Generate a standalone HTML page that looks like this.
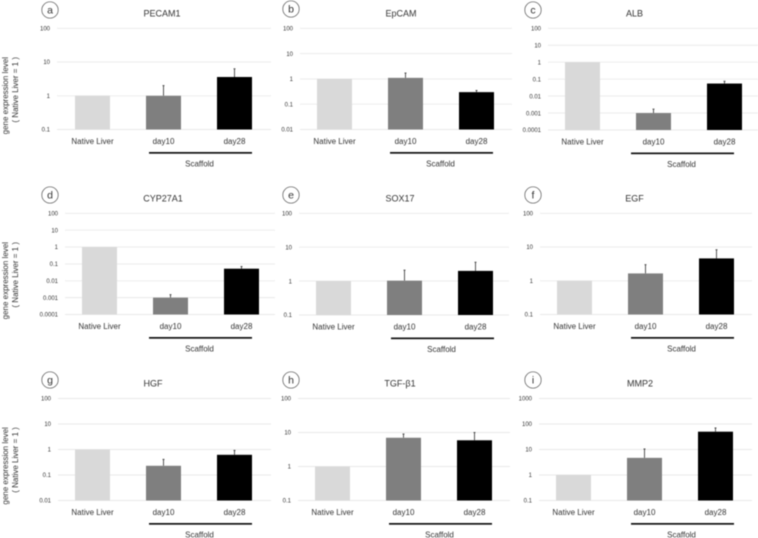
<!DOCTYPE html>
<html lang="en">
<head>
<meta charset="utf-8">
<title>Gene expression panels</title>
<style>
html,body{margin:0;padding:0;background:#fff;width:758px;height:538px;overflow:hidden}
svg{display:block;filter:blur(0.4px)}
text{font-family:"Liberation Sans",sans-serif;fill:#333}
</style>
</head>
<body>
<svg id="figure" xmlns="http://www.w3.org/2000/svg" width="758" height="538" viewBox="0 0 758 538"></svg>
<script>
const letters = ['a','b','c','d','e','f','g','h','i'];
const genes = ['PECAM1','EpCAM','ALB','CYP27A1','SOX17','EGF','HGF','TGF-β1','MMP2'];
const categories = ['Native Liver','day10','day28'];
const groupLabel = 'Scaffold';
const nativeValues = [1,1,1,1,1,1,1,1,1];
const day10Values = [1,1.1,0.001,0.001,1.03,1.65,0.23,7,4.7];
const day28Values = [3.6,0.3,0.055,0.052,2,4.6,0.62,5.9,50];
const day10ErrorTops = [2,1.7,0.0017,0.0015,2.1,3,0.41,9,10.5];
const day28ErrorTops = [6.3,0.35,0.075,0.07,3.6,8.3,0.92,10,70];
const axisMinValues = [0.1,0.01,0.0001,0.0001,0.1,0.1,0.01,0.1,0.1];
const axisMaxValues = [100,100,100,100,100,100,100,100,1000];
const tickLabels = [
  ['0.1','1','10','100'],
  ['0.01','0.1','1','10','100'],
  ['0.0001','0.001','0.01','0.1','1','10','100'],
  ['0.0001','0.001','0.01','0.1','1','10','100'],
  ['0.1','1','10','100'],
  ['0.1','1','10','100'],
  ['0.01','0.1','1','10','100'],
  ['0.1','1','10','100'],
  ['0.1','1','10','100','1000']
];
const yAxisTitles = ['gene expression level','( Native Liver = 1 )'];

const layout = [
  {l:57, r:271,top:28.3, bot:129.5,bar:75, title:162,line:149,cx:50, cy:10},
  {l:300,r:512,top:28.3, bot:129.5,bar:317,title:401,line:390,cx:291,cy:9},
  {l:548,r:758,top:28.3, bot:130,  bar:565,title:634.5,line:631,cx:533,cy:10},
  {l:65, r:275,top:213.3,bot:314.5,bar:82, title:163,line:149,cx:50, cy:195},
  {l:299,r:509,top:213.3,bot:315,  bar:316,title:400,line:391,cx:291,cy:195},
  {l:540,r:752,top:213.3,bot:314.5,bar:557,title:634.5,line:631,cx:533,cy:195},
  {l:58, r:271,top:398.5,bot:500.5,bar:75, title:153,line:149,cx:50, cy:380},
  {l:298,r:510,top:398.5,bot:500.5,bar:315,title:400,line:389,cx:291,cy:380},
  {l:539,r:752,top:398.5,bot:500.5,bar:556,title:640,line:631,cx:533,cy:380}
];
const barFills = ['#d9d9d9','#7f7f7f','#000000'];
const barNames = ['native-liver','day10','day28'];
const BAR_W = 35, BAR_STEP = 71;
const NS = 'http://www.w3.org/2000/svg';
const fig = document.getElementById('figure');

function mk(parent, tag, attrs, txt) {
  const el = document.createElementNS(NS, tag);
  for (const k in attrs) el.setAttribute(k, attrs[k]);
  if (txt !== undefined) el.textContent = txt;
  parent.appendChild(el);
  return el;
}

function yScale(i, v) {
  const p = layout[i];
  const lo = Math.log10(axisMinValues[i]), hi = Math.log10(axisMaxValues[i]);
  return p.bot - (Math.log10(v) - lo) / (hi - lo) * (p.bot - p.top);
}

function xBar(i, c) {
  return layout[i].bar + c * BAR_STEP;
}

genes.forEach(function (gene, i) {
  const p = layout[i];
  const g = mk(fig, 'g', {});
  
  

  const badge = mk(g, 'circle', {cx:p.cx, cy:p.cy, r:8.2, fill:'#fff', stroke:'#555', 'stroke-width':0.7});
  
  
  const badgeText = mk(g, 'text', {x:p.cx, y:p.cy + 3.5, 'font-size':10.5, 'text-anchor':'middle'}, letters[i]);
  
  

  const title = mk(g, 'text', {x:p.title, y:p.top - 12, 'font-size':9, 'text-anchor':'middle'}, gene);
  
  

  tickLabels[i].forEach(function (label) {
    const y = yScale(i, parseFloat(label));
    const grid = mk(g, 'line', {x1:p.l, x2:p.r, y1:y, y2:y, stroke:'#e9e9e9', 'stroke-width':0.9});
    
    
    const tick = mk(g, 'text', {x:p.l - 7, y:y + 2.2, 'font-size':6, 'text-anchor':'end'}, label);
    
    
  });

  const series = [nativeValues[i], day10Values[i], day28Values[i]];
  const errorTops = [null, day10ErrorTops[i], day28ErrorTops[i]];
  series.forEach(function (v, c) {
    const x = xBar(i, c), y = yScale(i, v);
    const cx = x + BAR_W / 2;
    if (errorTops[c] !== null) {
      const ey = yScale(i, errorTops[c]);
      const err = mk(g, 'line', {x1:cx, x2:cx, y1:y, y2:ey, stroke:'#444', 'stroke-width':0.9});
      
      
      const cap = mk(g, 'line', {x1:cx - 1, x2:cx + 1, y1:ey, y2:ey, stroke:'#444', 'stroke-width':0.9});
      
      
    }
    const bar = mk(g, 'rect', {x:x, y:y, width:BAR_W, height:p.bot - y, fill:barFills[c]});
    
    
    const cat = mk(g, 'text', {x:cx, y:p.bot + 14.5, 'font-size':8, 'text-anchor':'middle'}, categories[c]);
    
    
  });

  const bracket = mk(g, 'rect', {x:p.line, y:p.bot + 22.5, width:103, height:1.7, fill:'#111'});
  
  
  const scaffold = mk(g, 'text', {x:p.line + 50.5, y:p.bot + 37, 'font-size':8, 'text-anchor':'middle'}, groupLabel);
  
  

  if (i % 3 === 0) {
    const topY = p.top + 28.7;
    yAxisTitles.forEach(function (t, k) {
      const x = k === 0 ? 8 : 18;
      const yTitle = mk(g, 'text', {x:x, y:topY, 'font-size':8, 'text-anchor':'end', transform:'rotate(-90 ' + x + ' ' + topY + ')'}, t);
      
      
    });
  }
});
</script>
</body>
</html>
